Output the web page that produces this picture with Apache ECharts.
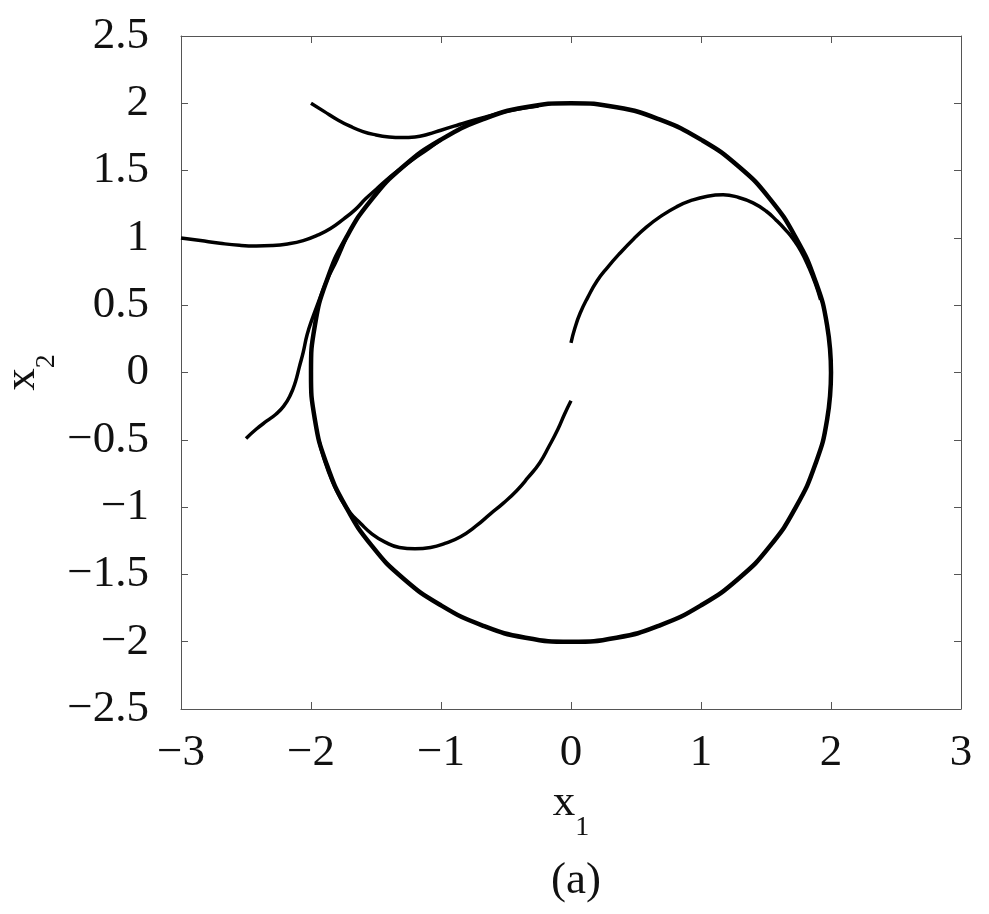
<!DOCTYPE html>
<html style="height: 100%">
<head>
    <meta charset="utf-8">
    <script type="text/javascript" src="https://cdn.jsdelivr.net/npm/echarts@6/dist/echarts.min.js"></script>
</head>
<body style="height: 100%; margin: 0; background: #fff">
<div id="container" style="width: 989px; height: 914px"></div>
<script type="text/javascript">
    // limit cycle (r = 2)
    var limitCycle = [
        [2.00, 0.00], [1.97, 0.35], [1.88, 0.68], [1.73, 1.00], [1.53, 1.29], [1.29, 1.53],
        [1.00, 1.73], [0.68, 1.88], [0.35, 1.97], [0.00, 2.00], [-0.35, 1.97], [-0.68, 1.88],
        [-1.00, 1.73], [-1.29, 1.53], [-1.53, 1.29], [-1.73, 1.00], [-1.88, 0.68], [-1.97, 0.35],
        [-2.00, 0.00], [-1.97, -0.35], [-1.88, -0.68], [-1.73, -1.00], [-1.53, -1.29], [-1.29, -1.53],
        [-1.00, -1.73], [-0.68, -1.88], [-0.35, -1.97], [0.00, -2.00], [0.35, -1.97], [0.68, -1.88],
        [1.00, -1.73], [1.29, -1.53], [1.53, -1.29], [1.73, -1.00], [1.88, -0.68], [1.97, -0.35],
        [2.00, 0.00]
    ];
    // trajectory starting at (-2, 2)
    var trajA = [
        [-2.00, 2.00], [-1.90, 1.94], [-1.80, 1.88], [-1.70, 1.83], [-1.60, 1.79], [-1.50, 1.765],
        [-1.40, 1.75], [-1.30, 1.745], [-1.20, 1.75], [-1.10, 1.77], [-1.00, 1.80], [-0.90, 1.83],
        [-0.80, 1.86], [-0.65, 1.90], [-0.45, 1.95], [-0.25, 1.98]
    ];
    // trajectory starting at (-3, 1)
    var trajB = [
        [-3.00, 1.00], [-2.85, 0.98], [-2.70, 0.96], [-2.55, 0.945], [-2.42, 0.94], [-2.30, 0.943],
        [-2.18, 0.955], [-2.06, 0.98], [-1.95, 1.02], [-1.85, 1.07], [-1.75, 1.14], [-1.66, 1.21],
        [-1.58, 1.29], [-1.50, 1.36], [-1.42, 1.43], [-1.33, 1.50], [-1.22, 1.58], [-1.10, 1.66],
        [-1.00, 1.73]
    ];
    // trajectory starting at (-2.5, -0.5)
    var trajC = [
        [-2.50, -0.49], [-2.42, -0.42], [-2.34, -0.36], [-2.27, -0.31], [-2.21, -0.25], [-2.16, -0.17],
        [-2.12, -0.07], [-2.09, 0.04], [-2.06, 0.15], [-2.03, 0.28], [-1.99, 0.40], [-1.94, 0.53],
        [-1.88, 0.68], [-1.80, 0.84], [-1.73, 1.00]
    ];
    // trajectory starting at (0, 0.2)
    var trajD = [
        [0.00, 0.22], [0.03, 0.33], [0.07, 0.44], [0.13, 0.56], [0.20, 0.68], [0.28, 0.78],
        [0.38, 0.89], [0.48, 0.99], [0.58, 1.08], [0.69, 1.16], [0.81, 1.23], [0.93, 1.28],
        [1.05, 1.31], [1.17, 1.32], [1.29, 1.30], [1.40, 1.26], [1.50, 1.20], [1.58, 1.13],
        [1.65, 1.06], [1.71, 0.99], [1.77, 0.90], [1.83, 0.78], [1.88, 0.66], [1.92, 0.54]
    ];
    // trajectory starting at (0, -0.2)
    var trajE = [
        [0.00, -0.21], [-0.05, -0.31], [-0.10, -0.42], [-0.17, -0.55], [-0.24, -0.67], [-0.33, -0.78],
        [-0.42, -0.88], [-0.52, -0.97], [-0.62, -1.05], [-0.73, -1.14], [-0.85, -1.22], [-0.97, -1.27],
        [-1.08, -1.30], [-1.20, -1.31], [-1.32, -1.30], [-1.43, -1.26], [-1.53, -1.20], [-1.62, -1.12],
        [-1.70, -1.04], [-1.77, -0.94], [-1.84, -0.80], [-1.90, -0.64], [-1.94, -0.50]
    ];

    var font = 'Liberation Serif';
    var dom = document.getElementById("container");
    var myChart = echarts.init(dom);

    function minus(v) {
        return String(v).replace('-', '\u2212');
    }
    var axisLine = {show: true, onZero: false, lineStyle: {color: '#555', width: 1}};
    var tick = {show: true, inside: true, length: 7, lineStyle: {color: '#555'}};
    var tickLabel = {fontFamily: font, fontSize: 45, color: '#111', formatter: minus};
    var subRich = {
        a: {fontFamily: font, fontSize: 45, color: '#111'},
        b: {fontFamily: font, fontSize: 28, color: '#111', verticalAlign: 'bottom', padding: [0, 0, -16, 0]}
    };

    function traj(name, data, w) {
        return {
            name: name,
            type: 'line',
            data: data,
            smooth: true,
            showSymbol: false,
            lineStyle: {color: '#000', width: w},
            z: 3
        };
    }

    var option = {
        animation: false,
        grid: {left: 181, right: 28, top: 36, bottom: 205, containLabel: false, outerBoundsMode: 'none'},
        title: {
            text: '(a)', left: 546, top: 854,
            textStyle: {fontFamily: font, fontSize: 45, fontWeight: 'normal', color: '#111'}
        },
        xAxis: [{
            type: 'value', min: -3, max: 3, interval: 1,
            axisLine: axisLine, axisTick: tick, splitLine: {show: false},
            axisLabel: Object.assign({margin: 22}, tickLabel),
            name: '{a|x}{b|1}', nameLocation: 'middle', nameGap: 72, nameMoveOverlap: false,
            nameTextStyle: {rich: subRich}
        }, {
            type: 'value', position: 'top', min: -3, max: 3, interval: 1,
            axisLine: axisLine, axisTick: tick, axisLabel: {show: false}, splitLine: {show: false}
        }],
        yAxis: [{
            type: 'value', min: -2.5, max: 2.5, interval: 0.5,
            axisLine: axisLine, axisTick: tick, splitLine: {show: false},
            axisLabel: Object.assign({margin: 32}, tickLabel),
            name: '{a|x}{b|2}', nameLocation: 'middle', nameGap: 136, nameRotate: 90, nameMoveOverlap: false,
            nameTextStyle: {rich: subRich}
        }, {
            type: 'value', position: 'right', min: -2.5, max: 2.5, interval: 0.5,
            axisLine: axisLine, axisTick: tick, axisLabel: {show: false}, splitLine: {show: false}
        }],
        series: [
            traj('cycle', limitCycle, 4.5),
            traj('a', trajA, 3.5),
            traj('b', trajB, 3.5),
            traj('c', trajC, 3.5),
            traj('d', trajD, 3.5),
            traj('e', trajE, 3.5)
        ]
    };
    myChart.setOption(option);
</script>
</body>
</html>
